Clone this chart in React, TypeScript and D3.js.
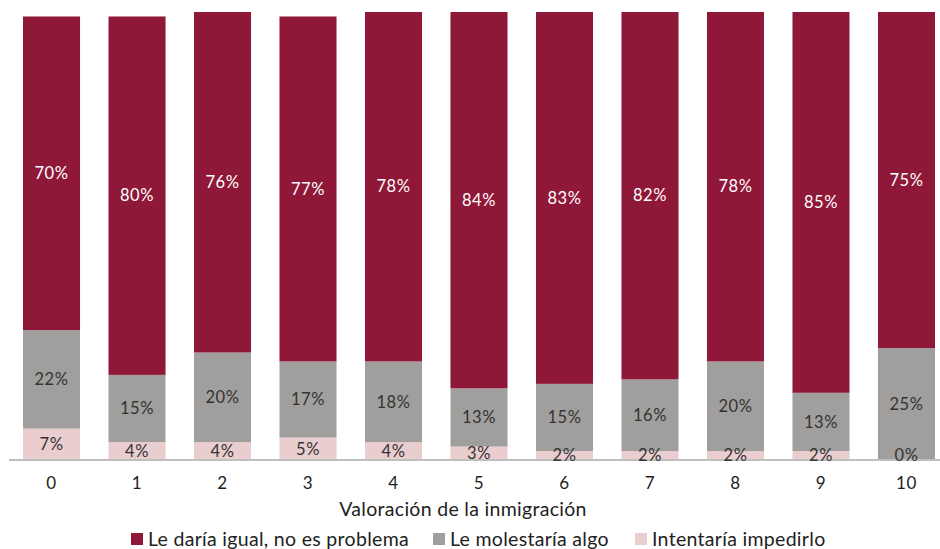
import React from "react";
import * as d3 from "d3";

// Data
const categories = ["0", "1", "2", "3", "4", "5", "6", "7", "8", "9", "10"];
const impedirlo = [7, 4, 4, 5, 4, 3, 2, 2, 2, 2, 0];
const molestaria = [22, 15, 20, 17, 18, 13, 15, 16, 20, 13, 25];
const igual = [70, 80, 76, 77, 78, 84, 83, 82, 78, 85, 75];

const seriesNames = ["Intentaría impedirlo", "Le molestaría algo", "Le daría igual, no es problema"];
const seriesColors = ["#E9CDCF", "#A09F9D", "#8F1738"];
const labelColors = ["#333333", "#333333", "#FFFFFF"];
const legendOrder = [2, 1, 0];

const W = 940;
const H = 549;
const FONT = "Lato, 'Open Sans', sans-serif";

const App: React.FC = () => {
  const rows = categories.map((c, i) => ({
    cat: c,
    s0: impedirlo[i],
    s1: molestaria[i],
    s2: igual[i],
  }));
  const stack = d3.stack<any>().keys(["s0", "s1", "s2"]);
  const layers = stack(rows);

  const x = d3
    .scaleBand()
    .domain(categories)
    .range([8.75, 949.25])
    .paddingInner(0.333)
    .paddingOuter(0.1667);
  const y = d3.scaleLinear().domain([0, 100]).range([460, 12]);

  // legend layout
  const legendX = [131, 433, 635];

  return (
    <svg
      width={W}
      height={H}
      style={{ position: "absolute", left: 0, top: 0, background: "#fff" }}
      fontFamily={FONT}
    >
      {/* Bars */}
      {layers.map((layer, li) => (
        <g key={li} fill={seriesColors[li]}>
          {layer.map((d, i) => (
            <rect
              key={i}
              x={x(categories[i])}
              y={y(d[1])}
              width={x.bandwidth()}
              height={y(d[0]) - y(d[1])}
            />
          ))}
        </g>
      ))}

      {/* Axis line */}
      <line x1={9} x2={940} y1={460} y2={460} stroke="#BFBFBF" strokeWidth={2} />

      {/* Segment labels */}
      {layers.map((layer, li) => (
        <g key={"l" + li} fill={labelColors[li]} fontSize={16.5} textAnchor="middle">
          {layer.map((d, i) => {
            const mid = Math.min((y(d[0]) + y(d[1])) / 2, 455);
            return (
              <text
                key={i}
                x={x(categories[i])! + x.bandwidth() / 2}
                y={mid}
                dy="0.35em"
                letterSpacing={0.6}
              >
                {`${d[1] - d[0]}%`}
              </text>
            );
          })}
        </g>
      ))}

      {/* X tick labels */}
      <g fontSize={17} fill="#222" textAnchor="middle">
        {categories.map((c) => (
          <text key={c} x={x(c)! + x.bandwidth() / 2} y={483} dy="0.35em" letterSpacing={0.5}>
            {c}
          </text>
        ))}
      </g>

      {/* Axis title */}
      <text x={463} y={509} dy="0.35em" textAnchor="middle" fontSize={19.5} fill="#222" letterSpacing={0.3}>
        Valoración de la inmigración
      </text>

      {/* Legend */}
      <g fontSize={19.5} fill="#222">
        {legendOrder.map((si, k) => (
          <g key={si} transform={`translate(${legendX[k]},539)`}>
            <rect x={0} y={-6} width={12} height={12} fill={seriesColors[si]} />
            <text x={17} y={0} dy="0.35em" letterSpacing={0.3}>
              {seriesNames[si]}
            </text>
          </g>
        ))}
      </g>
    </svg>
  );
};

export default App;
